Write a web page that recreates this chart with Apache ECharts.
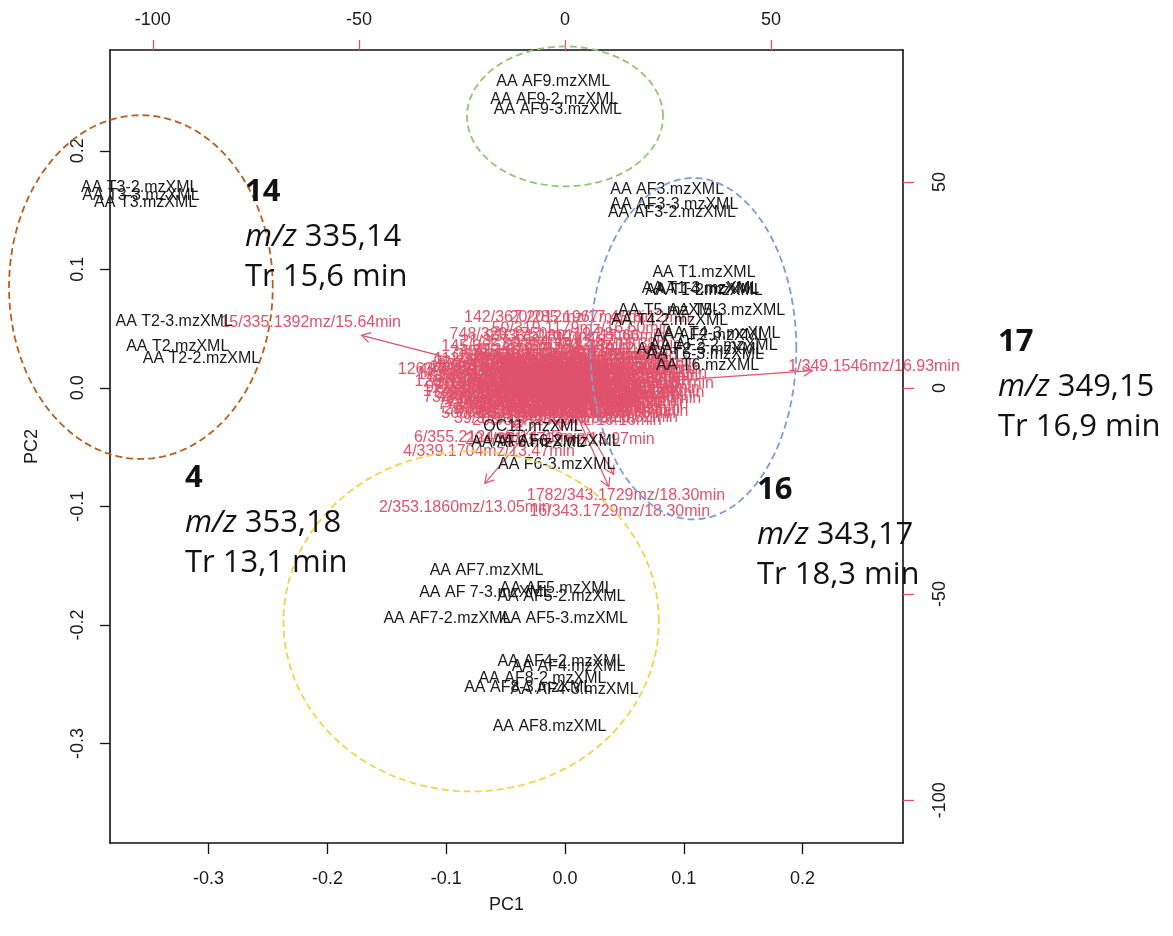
<!DOCTYPE html>
<html><head><meta charset="utf-8">
<script src="https://cdn.jsdelivr.net/npm/echarts@6/dist/echarts.min.js"></script>
<style>html,body{margin:0;padding:0;background:#fff}#c{width:1173px;height:936px}</style>
</head><body><div id="c"></div>
<script>
// ---- sample scores (PC1, PC2) ----
const sampleNames = [
 'AA T3-2.mzXML','AA T3-3.mzXML','AA T3.mzXML','AA T2-3.mzXML','AA T2.mzXML','AA T2-2.mzXML',
 'AA AF9.mzXML','AA AF9-2.mzXML','AA AF9-3.mzXML',
 'AA AF3.mzXML','AA AF3-3.mzXML','AA AF3-2.mzXML',
 'AA T1.mzXML','AA T1-3.mzXML','AA T4.mzXML','AA T1-2.mzXML','AA T5.mzXML','AA T5-3.mzXML',
 'AA T4-2.mzXML','AA T4-3.mzXML','AA AF2.mzXML','AA AF2-2.mzXML','AA AF2-3.mzXML','AA T6-3.mzXML','AA T6.mzXML',
 'OC11.mzXML','AA AF6.mzXML','AA AF6-2.mzXML','AA F6-3.mzXML',
 'AA AF7.mzXML','AA AF 7-3.mzXML','AA AF5.mzXML','AA AF5-2.mzXML','AA AF7-2.mzXML','AA AF5-3.mzXML',
 'AA AF4-2.mzXML','AA AF4.mzXML','AA AF8-2.mzXML','AA AF8-3.mzXML','AA AF4-3.mzXML','AA AF8.mzXML'
];
const samplePC1 = [
 -0.358,-0.357,-0.353,-0.329,-0.326,-0.306,
 -0.010,-0.009,-0.006,
 0.086,0.092,0.090,
 0.117,0.114,0.119,0.117,0.088,0.136,
 0.088,0.132,0.122,0.125,0.114,0.118,0.120,
 -0.027,-0.031,-0.007,-0.007,
 -0.066,-0.067,-0.007,-0.003,-0.099,-0.001,
 -0.003,0.003,-0.019,-0.031,0.008,-0.013
];
const samplePC2 = [
 0.169,0.162,0.156,0.056,0.035,0.025,
 0.258,0.243,0.235,
 0.167,0.155,0.148,
 0.097,0.084,0.083,0.082,0.065,0.065,
 0.057,0.046,0.044,0.036,0.032,0.028,0.019,
 -0.033,-0.046,-0.045,-0.065,
 -0.154,-0.173,-0.169,-0.176,-0.195,-0.195,
 -0.231,-0.235,-0.245,-0.253,-0.255,-0.286
];

// ---- variable loadings (top / right axis units) ----
const loadingNames = [
 '142/367.2012mz/17.45min','20/285.1967mz/18.12min','748/329.1750mz/19.28min','21/327.1594mz/15.87min',
 '74/315.1236mz/14.92min','93/331.1801mz/17.66min','35/359.1912mz/16.38min','412/373.2110mz/19.04min',
 '58/319.1447mz/20.11min','1263/301.1410mz/21.06min','126/313.1045mz/20.41min','73/345.1533mz/15.02min',
 '29/309.1340mz/22.15min','81/361.2003mz/20.82min','204/351.1702mz/13.97min','6/355.2124mz/14.05min',
 '4/339.1704mz/13.47min','2/353.1860mz/13.05min','16/343.1729mz/18.30min','1782/343.1729mz/18.30min',
 '15/335.1392mz/15.64min','1/349.1546mz/16.93min',
 '112/337.1601mz/16.52min','47/323.1288mz/18.77min','268/365.1859mz/19.63min','533/341.1650mz/17.21min',
 '19/333.1497mz/16.40min','88/347.1689mz/20.06min','301/357.1957mz/18.44min','67/317.1391mz/21.73min',
 '905/369.2061mz/17.88min','12/327.1235mz/15.33min','156/339.1549mz/19.92min','41/361.1808mz/16.71min',
 '377/311.1127mz/22.48min','62/349.1702mz/18.09min','1045/353.1705mz/20.37min','27/329.1442mz/14.61min',
 '189/343.1516mz/17.02min','53/333.1650mz/19.55min','644/375.2167mz/21.20min','8/359.1863mz/15.91min',
 '97/321.1333mz/18.66min','231/347.1862mz/16.24min','36/341.1962mz/20.59min','715/363.1801mz/17.47min',
 '14/337.1914mz/19.11min','118/351.1859mz/22.93min','59/307.1176mz/16.85min','420/329.1389mz/18.98min',
 '23/355.1753mz/14.28min','86/367.1967mz/20.74min','1390/319.1282mz/17.36min','45/345.1651mz/21.49min',
 '172/339.1393mz/15.76min','31/371.2118mz/19.38min','598/325.1492mz/18.21min','77/353.1652mz/16.93min',
 '255/313.1183mz/20.28min','10/361.1956mz/17.59min','134/335.1287mz/22.02min','68/347.1549mz/15.49min',
 '1524/357.1911mz/19.70min','39/331.1544mz/18.55min','203/327.1598mz/16.16min','92/343.1858mz/21.88min',
 '610/349.1811mz/17.12min','18/333.1394mz/20.95min','145/365.2015mz/18.33min','50/319.1179mz/16.60min',
 '3/337.1551mz/17.07min','11/321.1445mz/19.26min','26/345.1808mz/16.88min','49/363.1911mz/18.81min',
 '57/329.1287mz/20.44min','65/351.1599mz/15.68min','79/317.1335mz/17.93min','83/341.1752mz/21.31min',
 '99/357.1865mz/19.47min','103/335.1704mz/16.05min','110/369.2114mz/18.16min','121/325.1379mz/22.61min',
 '137/347.1596mz/17.84min','150/311.1232mz/15.21min','163/339.1862mz/20.17min','178/359.1755mz/19.02min',
 '192/333.1501mz/16.47min','216/353.1912mz/21.64min','240/327.1443mz/18.72min','287/373.2012mz/17.29min',
 '315/343.1653mz/20.53min','352/319.1390mz/15.95min','398/365.1807mz/19.81min','446/331.1389mz/17.53min',
 '487/349.1546mz/22.27min','521/337.1398mz/18.49min','566/361.1909mz/16.35min','623/323.1285mz/20.99min',
 '689/345.1494mz/18.06min','752/355.1857mz/17.74min'
];
const loadingX = [
 -1.5,8.5,-5.0,-3.5,-6.0,2.5,6.5,1.0,5.5,-16.5,-13.5,-12.5,-7.5,5.5,-1.2,-15.8,-18.4,-24.3,13.3,14.8,-61.7,75.0,
 -9.0,-3.0,3.0,9.0,-11.0,-6.0,-1.0,4.5,10.0,-14.0,-8.0,-3.0,2.0,7.0,12.1,-10.0,-5.0,0.0,5.0,9.5,
 -12.0,-7.0,-2.0,3.0,8.0,11.0,-10.0,-5.0,0.0,4.9,9.0,-8.0,-3.0,2.0,7.0,-9.0,-4.0,1.0,5.0,-2.0,3.0,-5.0,0.5,-10.0,
 6.0,-1.0,-7.0,4.0,
 -2.5,1.5,6.0,-6.5,-11.0,10.5,-4.0,1.0,6.5,-8.5,10.0,-1.5,3.5,-6.0,8.0,-11.5,0.5,-5.5,5.5,-8.0,
 2.5,7.5,-3.5,1.5,-12.5,11.5,-7.0,2.0,-3.5,7.0
];
const loadingY = [
 17.0,17.0,12.9,11.2,8.7,12.5,10.5,9.0,8.0,4.4,1.5,-2.4,-5.3,-7.2,-12.6,-11.9,-15.5,-28.9,-29.9,-26.2,16.0,5.3,
 7.0,6.5,6.8,6.2,5.0,4.8,5.2,4.6,4.4,3.2,3.0,3.4,2.9,3.1,1.2,1.6,1.2,1.6,1.0,1.8,
 0.0,-0.2,0.2,-0.3,0.1,-1.0,-1.3,-1.0,-1.4,-2.2,-2.5,-2.8,-2.6,-3.1,-3.8,-4.0,-4.2,-4.6,-5.0,-6.0,-6.3,-7.5,-8.0,6.2,
 5.6,8.0,10.0,14.5,
 4.0,4.2,2.2,2.3,2.5,2.8,0.6,0.4,-0.8,0.9,-0.2,-2.0,-1.5,-1.8,-1.6,-0.8,-3.6,-3.4,-3.2,5.5,
 5.8,4.8,7.8,7.2,4.2,3.6,-6.2,-5.6,-4.9,-5.6
];

// ---- group ellipses (PC units) ----
const ellipseCX = [-0.357, 0.000, 0.108, -0.079];
const ellipseCY = [0.085, 0.229, 0.033, -0.197];
const ellipseRX = [0.111, 0.0825, 0.0867, 0.158];
const ellipseRY = [0.145, 0.059, 0.144, 0.1435];
const ellipseColors = ['#B5601F', '#93C472', '#7E9CD2', '#F0D44C'];

// ---- tick labels ----
const pcTicks = [-0.3, -0.2, -0.1, 0.0, 0.1, 0.2];
const loadTicks = [-100, -50, 0, 50];

// ---- annotations ----
const annoNum = ['14', '4', '16', '17'];
const annoMz = ['335,14', '353,18', '343,17', '349,15'];
const annoTr = ['Tr 15,6 min', 'Tr 13,1 min', 'Tr 18,3 min', 'Tr 16,9 min'];
const annoLayout = [[245, 192], [185, 478], [757, 490], [998, 342]];

const RED = '#DF536B';
const SANS = '"Liberation Sans", Arial, Helvetica, sans-serif';
const ANNO = '"Open Sans", "Noto Sans", sans-serif';

const chart = echarts.init(document.getElementById('c'), null, {renderer: 'canvas'});

const axisFont = {fontSize: 18, color: '#1a1a1a', fontFamily: SANS};

const graphics = [];
annoNum.forEach((n, i) => {
  const [x, y] = annoLayout[i];
  graphics.push({type: 'text', x: x, y: y, z: 100, style: {text: n, fontSize: 31, fontWeight: 'bold', fontFamily: ANNO, fill: '#111', verticalAlign: 'middle', align: 'left'}});
  graphics.push({type: 'text', x: x, y: y + 45, z: 100, style: {text: '{i|m/z} ' + annoMz[i], fontSize: 31, fontFamily: ANNO, fill: '#111', verticalAlign: 'middle', align: 'left',
     rich: {i: {fontStyle: 'italic', fontSize: 31, fontFamily: ANNO, fill: '#111'}}}});
  graphics.push({type: 'text', x: x, y: y + 85, z: 100, style: {text: annoTr[i], fontSize: 31, fontFamily: ANNO, fill: '#111', verticalAlign: 'middle', align: 'left'}});
});

const option = {
  backgroundColor: '#fff',
  animation: false,
  grid: {left: 110, right: 270, top: 50, bottom: 93, containLabel: false},
  xAxis: [
    {type: 'value', position: 'bottom', min: -0.383, max: 0.2845,
     axisLine: {onZero: false, lineStyle: {color: '#111', width: 1.6}},
     axisTick: {customValues: pcTicks, length: 11, lineStyle: {color: '#111', width: 1.3}},
     axisLabel: Object.assign({customValues: pcTicks, margin: 27, formatter: v => v.toFixed(1)}, axisFont),
     splitLine: {show: false},
     name: 'PC1', nameLocation: 'middle', nameGap: 53,
     nameTextStyle: {fontSize: 18, color: '#1a1a1a', fontFamily: SANS}},
    {type: 'value', position: 'top', min: -110.4, max: 82.04,
     axisLine: {onZero: false, lineStyle: {color: '#111', width: 1.6}},
     axisTick: {customValues: loadTicks, length: 10, lineStyle: {color: RED, width: 1.3}},
     axisLabel: Object.assign({customValues: loadTicks, margin: 21}, axisFont),
     splitLine: {show: false}}
  ],
  yAxis: [
    {type: 'value', position: 'left', min: -0.384, max: 0.285,
     axisLine: {onZero: false, lineStyle: {color: '#111', width: 1.6}},
     axisTick: {customValues: pcTicks, length: 10, lineStyle: {color: '#111', width: 1.3}},
     axisLabel: Object.assign({customValues: pcTicks, margin: 23, rotate: 90, formatter: v => v.toFixed(1)}, axisFont),
     splitLine: {show: false},
     name: 'PC2', nameLocation: 'middle', nameGap: 69,
     nameTextStyle: {fontSize: 18, color: '#1a1a1a', fontFamily: SANS}},
    {type: 'value', position: 'right', min: -110.4, max: 82.04,
     axisLine: {onZero: false, lineStyle: {color: '#111', width: 1.6}},
     axisTick: {customValues: loadTicks, length: 11, lineStyle: {color: RED, width: 1.3}},
     axisLabel: Object.assign({customValues: loadTicks, margin: 28, rotate: 90}, axisFont),
     splitLine: {show: false}}
  ],
  graphic: graphics,
  series: [
    { // loading arrows
      type: 'custom', xAxisIndex: 1, yAxisIndex: 1, z: 2, silent: true,
      data: loadingX.map((x, i) => [x, loadingY[i]]),
      encode: {x: 0, y: 1},
      renderItem: function (params, api) {
        const o = api.coord([0, 0]);
        const t = api.coord([api.value(0) * 0.8, api.value(1) * 0.8]);
        const ang = Math.atan2(t[1] - o[1], t[0] - o[0]);
        const L = 10, a = Math.PI / 6;
        const p1 = [t[0] - L * Math.cos(ang - a), t[1] - L * Math.sin(ang - a)];
        const p2 = [t[0] - L * Math.cos(ang + a), t[1] - L * Math.sin(ang + a)];
        return {type: 'group', children: [
          {type: 'line', shape: {x1: o[0], y1: o[1], x2: t[0], y2: t[1]}, style: {stroke: RED, lineWidth: 1.2}},
          {type: 'polyline', shape: {points: [p1, t, p2]}, style: {stroke: RED, lineWidth: 1.2, fill: 'none'}}
        ]};
      }
    },
    { // loading labels
      type: 'custom', xAxisIndex: 1, yAxisIndex: 1, z: 3, silent: true,
      data: loadingX.map((x, i) => [x, loadingY[i]]),
      encode: {x: 0, y: 1},
      renderItem: function (params, api) {
        const p = api.coord([api.value(0), api.value(1)]);
        return {type: 'text', style: {text: loadingNames[params.dataIndex], x: p[0], y: p[1],
          align: 'center', verticalAlign: 'middle', fill: RED, fontSize: 16, fontFamily: SANS}};
      }
    },
    { // sample labels
      type: 'custom', xAxisIndex: 0, yAxisIndex: 0, z: 4, silent: true,
      data: samplePC1.map((x, i) => [x, samplePC2[i]]),
      encode: {x: 0, y: 1},
      renderItem: function (params, api) {
        const p = api.coord([api.value(0), api.value(1)]);
        return {type: 'text', style: {text: sampleNames[params.dataIndex], x: p[0], y: p[1],
          align: 'center', verticalAlign: 'middle', fill: '#1a1a1a', fontSize: 16, fontFamily: SANS}};
      }
    },
    { // group ellipses
      type: 'custom', xAxisIndex: 0, yAxisIndex: 0, z: 5, silent: true,
      data: ellipseCX.map((cx, i) => [cx, ellipseCY[i], ellipseRX[i], ellipseRY[i]]),
      encode: {x: 0, y: 1},
      renderItem: function (params, api) {
        const cx = api.value(0), cy = api.value(1), rx = api.value(2), ry = api.value(3);
        const pts = [];
        for (let k = 0; k <= 144; k++) {
          const th = 2 * Math.PI * k / 144;
          pts.push(api.coord([cx + rx * Math.cos(th), cy + ry * Math.sin(th)]));
        }
        return {type: 'polyline', shape: {points: pts},
          style: {stroke: ellipseColors[params.dataIndex], lineWidth: 1.8, lineDash: [7, 4], fill: 'none'}};
      }
    }
  ]
};
chart.setOption(option);
</script>
</body></html>
